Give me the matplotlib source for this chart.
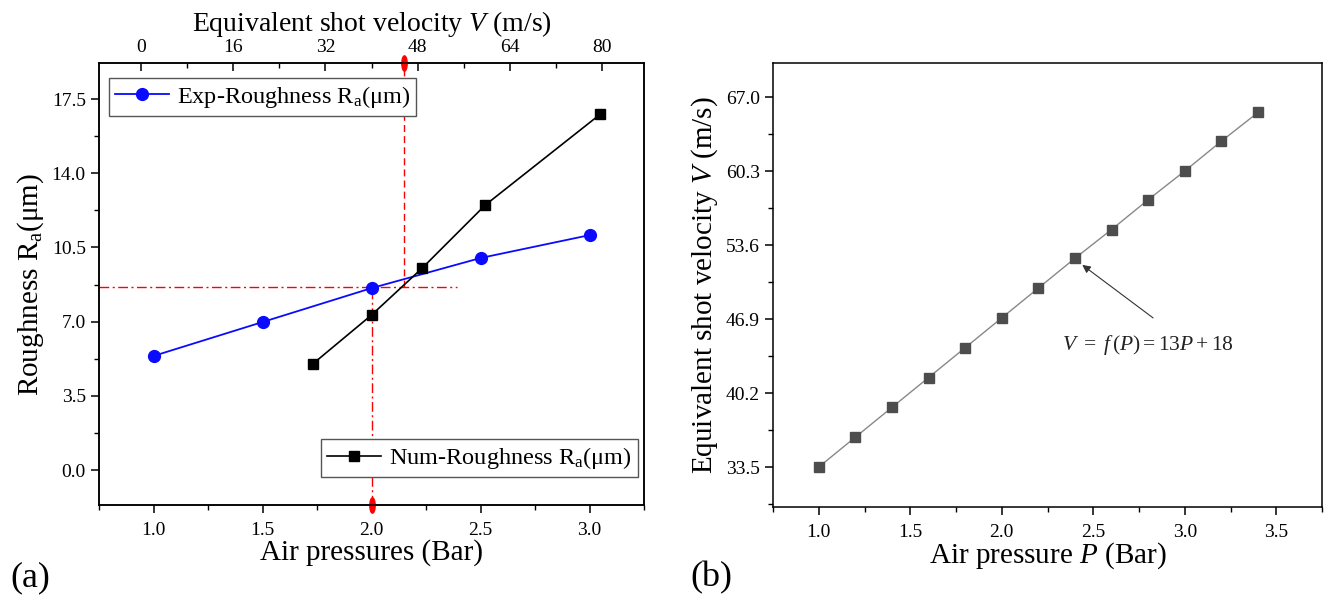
import matplotlib
matplotlib.use("Agg")
import matplotlib.pyplot as plt
from matplotlib.markers import MarkerStyle
from matplotlib.transforms import Affine2D
from matplotlib.ticker import MultipleLocator

plt.rcParams['font.family'] = ['Liberation Serif', 'DejaVu Serif']
plt.rcParams['mathtext.fontset'] = 'custom'
plt.rcParams['mathtext.rm'] = 'Liberation Serif'
plt.rcParams['mathtext.it'] = 'Liberation Serif:italic'
plt.rcParams['axes.linewidth'] = 1.1

# ---------------- data (a) ----------------
exp_pressure = [1.0, 1.5, 2.0, 2.5, 3.0]
exp_roughness = [5.38, 6.98, 8.58, 10.0, 11.08]
num_pressure = [1.73, 2.0, 2.233, 2.522, 3.05]
num_roughness = [5.0, 7.31, 9.53, 12.5, 16.79]
ref_pressure_num = 2.15   # red dashed vertical
ref_pressure_exp = 2.0    # red dash-dot vertical
ref_roughness = 8.62      # red dash-dot horizontal
ref_hline_end = 2.39
top_ticks = [0, 16, 32, 48, 64, 80]
left_yticks = [0.0, 3.5, 7.0, 10.5, 14.0, 17.5]
left_xticks = [1.0, 1.5, 2.0, 2.5, 3.0]

# ---------------- data (b) ----------------
air_pressure = [1.0, 1.2, 1.4, 1.6, 1.8, 2.0, 2.2, 2.4, 2.6, 2.8, 3.0, 3.2, 3.4]
velocity = [33.5, 36.2, 38.9, 41.6, 44.3, 47.0, 49.7, 52.4, 55.0, 57.7, 60.3, 63.0, 65.6]
right_yticks = [33.5, 40.2, 46.9, 53.6, 60.3, 67.0]
right_xticks = [1.0, 1.5, 2.0, 2.5, 3.0, 3.5]
annot_point = (2.44, 51.8)
annot_tail = (2.827, 47.0)
annot_text_pos = (2.80, 44.55)

W, H = 1325, 602
fig = plt.figure(figsize=(W / 100, H / 100), dpi=100)

def box(l, t, r, b):
    return [l / W, 1 - b / H, (r - l) / W, (b - t) / H]

tick_fs = 14
label_fs = 21

# ---------- left panel ----------
ax = fig.add_axes(box(99, 63, 644, 505))
ax.plot(exp_pressure, exp_roughness, '-o', color='#0a0aff', lw=1.3, ms=8.5,
        label=r'Exp-Roughness R$_{\mathrm{a}}$(μm)', zorder=4)
ax.plot(num_pressure, num_roughness, '-s', color='black', lw=1.2, ms=7,
        label=r'Num-Roughness R$_{\mathrm{a}}$(μm)', zorder=4)
ax.set_xlim(0.75, 3.25)
ax.set_ylim(-1.65, 19.2)
ylo, yhi = ax.get_ylim()
ax.plot([ref_pressure_num, ref_pressure_num], [ref_roughness, yhi], color='red',
        ls=(0, (5, 3)), lw=1.0, zorder=3)
ax.plot([0.75, ref_hline_end], [ref_roughness, ref_roughness], color='red',
        ls=(0, (7, 2.5, 1.5, 2.5)), lw=1.0, zorder=3)
ax.plot([ref_pressure_exp, ref_pressure_exp], [ylo, ref_roughness], color='red',
        ls=(0, (7, 2.5, 1.5, 2.5)), lw=1.0, zorder=3)
ell = MarkerStyle('o', transform=Affine2D().scale(0.35, 1.0))
ax.plot([ref_pressure_num], [yhi], marker=ell, color='red', ms=11, clip_on=False, zorder=6)
ax.plot([ref_pressure_exp], [ylo], marker=ell, color='red', ms=11, clip_on=False, zorder=6)

ax.set_xticks(left_xticks)
ax.set_yticks(left_yticks)
ax.xaxis.set_minor_locator(MultipleLocator(0.25))
ax.yaxis.set_minor_locator(MultipleLocator(1.75))
ax.tick_params(which='major', direction='out', length=6, width=1.1, labelsize=tick_fs)
ax.tick_params(which='minor', direction='out', length=3.5, width=1.0)
ax.tick_params(axis='x', pad=6)
ax.set_xlabel('Air pressures (Bar)', fontsize=label_fs, labelpad=0)
ax.set_ylabel(r'Roughness R$_{\mathrm{a}}$(μm)', fontsize=label_fs, labelpad=4)

h, l = ax.get_legend_handles_labels()
leg_kw = dict(fontsize=17.5, frameon=True, fancybox=False, edgecolor='#555555',
              framealpha=1, handlelength=2.2, borderpad=0.25, handletextpad=0.35,
              borderaxespad=0)
leg1 = ax.legend([h[0]], [l[0]], loc='upper left', bbox_to_anchor=(0.0185, 0.967), **leg_kw)
leg1.get_frame().set_linewidth(1.0)
ax.add_artist(leg1)
leg2 = ax.legend([h[1]], [l[1]], loc='lower right', bbox_to_anchor=(0.989, 0.063), **leg_kw)
leg2.get_frame().set_linewidth(1.0)

axt = ax.twiny()
axt.set_xlim(-7.29, 87.29)
axt.set_xticks(top_ticks)
axt.xaxis.set_minor_locator(MultipleLocator(8))
axt.tick_params(which='major', direction='in', length=6, width=1.1, labelsize=tick_fs, pad=5)
axt.tick_params(which='minor', direction='in', length=3.5, width=1.0)
axt.set_xlabel(r'Equivalent shot velocity $V$ (m/s)', fontsize=20, labelpad=6)

# ---------- right panel ----------
bx = fig.add_axes(box(773, 63, 1322, 507))
bx.plot(air_pressure, velocity, '-s', color='#888888', lw=1.0, ms=7.5,
        mfc='#4d4d4d', mec='#4d4d4d', zorder=4)
bx.set_xlim(0.75, 3.75)
bx.set_ylim(29.88, 70.08)
bx.set_xticks(right_xticks)
bx.set_yticks(right_yticks)
bx.set_yticklabels([f'{v:.1f}' for v in right_yticks])
bx.xaxis.set_minor_locator(MultipleLocator(0.25))
bx.yaxis.set_minor_locator(MultipleLocator(3.35))
bx.tick_params(which='major', direction='out', length=6, width=1.1, labelsize=tick_fs)
bx.tick_params(which='minor', direction='out', length=3.5, width=1.0)
bx.tick_params(axis='x', pad=6)
bx.set_xlabel(r'Air pressure $P$ (Bar)', fontsize=label_fs, labelpad=0)
bx.set_ylabel(r'Equivalent shot velocity $V$ (m/s)', fontsize=label_fs, labelpad=4)
bx.annotate('', xy=annot_point, xytext=annot_tail,
            arrowprops=dict(arrowstyle='-|>', color='#333333', lw=0.8,
                            mutation_scale=12, shrinkA=0, shrinkB=0))
bx.text(annot_text_pos[0], annot_text_pos[1], r'$V\ =\ f\,(P) = 13P + 18$',
        fontsize=15.5, ha='center', va='center', color='#222222')

fig.text(30 / W, 1 - 578 / H, '(a)', fontsize=26, ha='center', va='center')
fig.text(711 / W, 1 - 578 / H, '(b)', fontsize=26, ha='center', va='center')

fig.savefig('out.png', dpi=100)
